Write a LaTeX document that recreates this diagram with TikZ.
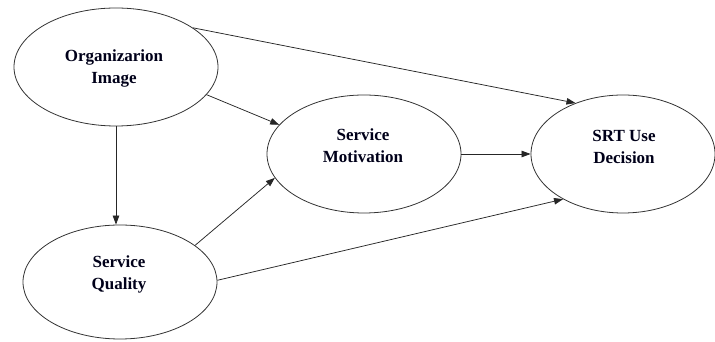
\documentclass[tikz,border=0pt]{standalone}
\usepackage{fontspec}
\setmainfont{Liberation Serif}
\usetikzlibrary{shapes.geometric,arrows.meta}

\begin{document}
\begin{tikzpicture}[x=1pt,y=1pt,
  construct/.style={draw=black!80, line width=0.8pt, ellipse, inner sep=0pt},
  caption/.style={font=\fontsize{17}{22}\selectfont\bfseries, align=center, text=black!90!blue, inner sep=0pt},
  path/.style={draw=black!85, line width=0.75pt, -{Triangle[length=9pt,width=6.5pt]}}
]
\useasboundingbox (0,0) rectangle (715,342);

% latent constructs
\node[construct, minimum width=204pt, minimum height=118pt] (org)  at (116,275) {};
\node[construct, minimum width=194pt, minimum height=114pt] (qual) at (120,60)  {};
\node[construct, minimum width=194pt, minimum height=118pt] (mot)  at (364,188) {};
\node[construct, minimum width=184pt, minimum height=118pt] (srt)  at (623,188) {};

% construct names
\node[caption] (orgtxt)  at (114,274) {Organizarion\\Image};
\node[caption] (qualtxt) at (119,68)  {Service\\Quality};
\node[caption] (mottxt)  at (363,196) {Service\\Motivation};
\node[caption] (srttxt)  at (624,195) {SRT Use\\Decision};

% hypothesised paths
\draw[path] (org.27.5) -- (srt.133.8);
\draw[path] (org.-17) -- (mot.161.6);
\draw[path] (org.south) -- (org.south |- qual.north);
\draw[path] (qual.26) -- (mot.195.4);
\draw[path] (qual.1) -- (srt.217.8);
\draw[path] (mot.east) -- (srt.west);
\end{tikzpicture}
\end{document}
